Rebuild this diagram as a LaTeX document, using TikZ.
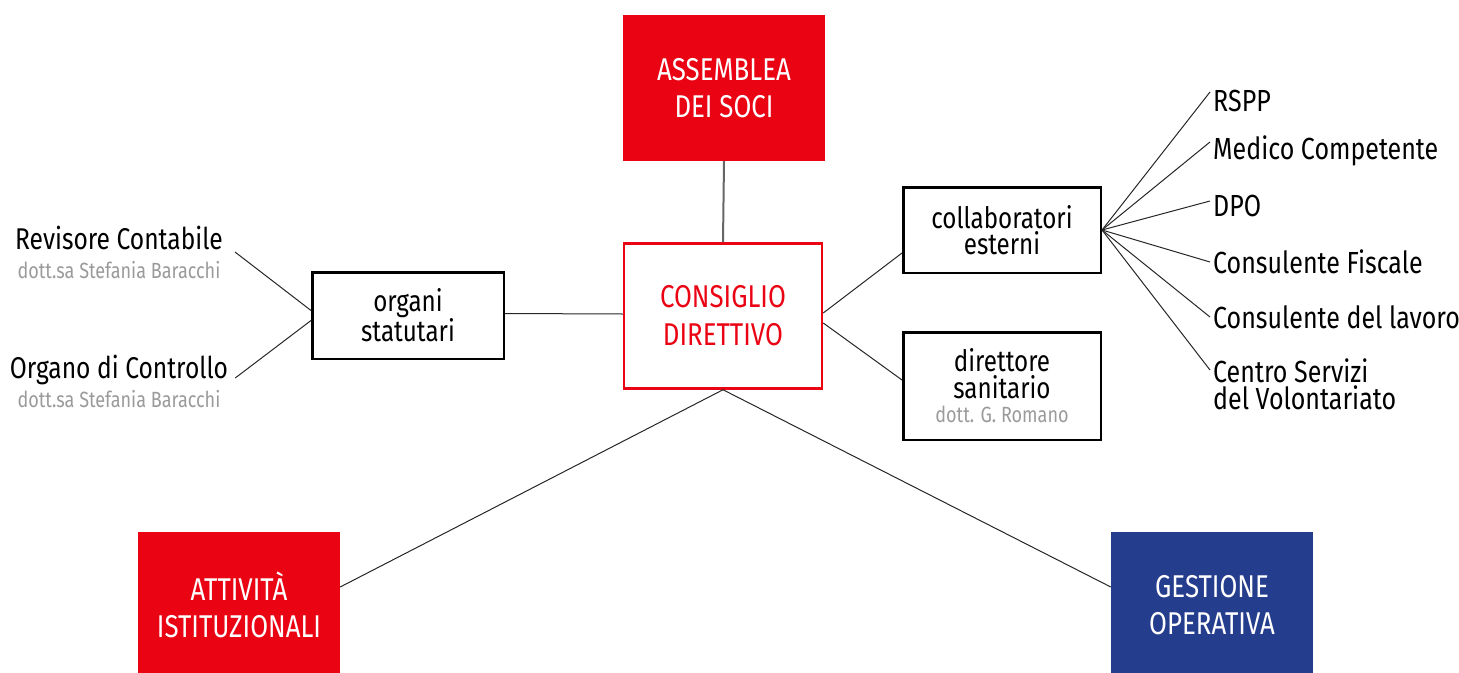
\documentclass[tikz,border=0pt]{standalone}
\usepackage{fontspec}
\setmainfont{Fira Sans}[FakeStretch=0.82]
\usetikzlibrary{positioning}
\definecolor{rosso}{HTML}{EA0313}
\definecolor{blu}{HTML}{253D8D}
\definecolor{grigio}{HTML}{9A9A9A}
\newcommand{\nomegrigio}[1]{{\color{grigio}\fontsize{22}{24}\selectfont #1}}

\begin{document}
\begin{tikzpicture}[x=1pt,y=-1pt,
	pieno/.style={minimum width=202pt,minimum height=146pt,inner sep=0pt,align=center,text=white,font=\fontsize{31.5}{37}\selectfont},
	cornice/.style={draw,line width=2.5pt,inner sep=0pt,align=center,font=\fontsize{29.5}{26.5}\selectfont},
	voce/.style={anchor=west,align=left,inner sep=0pt,font=\fontsize{30.5}{27}\selectfont},
	firma/.style={align=center,inner sep=0pt,font=\fontsize{30}{29}\selectfont},
	filo/.style={draw=black!85,line width=1pt}
	]
	\useasboundingbox (0,0) rectangle (1459,672);
	% livello centrale
	\node[pieno,fill=rosso](assemblea) at (724,88) {ASSEMBLEA\\DEI SOCI};
	\node[cornice,draw=rosso,text=rosso,minimum width=198pt,minimum height=145pt,font=\fontsize{31.5}{38}\selectfont](consiglio) at (723,316) {CONSIGLIO\\DIRETTIVO};
	\node[cornice,minimum width=191.5pt,minimum height=86.5pt](organi) at (408,315.5) {organi\\statutari};
	\node[cornice,minimum width=197.5pt,minimum height=85.5pt](collaboratori) at (1002,230) {collaboratori\\esterni};
	\node[cornice,minimum width=197.5pt,minimum height=107.5pt](direttore) at (1002,386) {direttore\\sanitario\\[-2pt]\nomegrigio{dott. G. Romano}};
	\node[pieno,fill=rosso](attivita) at (239,605) {ATTIVITÀ\\ISTITUZIONALI};
	\node[pieno,fill=blu](gestione) at (1212,605) {GESTIONE\\OPERATIVA};
	% organi statutari
	\node[firma](revisore) at (119,252) {Revisore Contabile\\\nomegrigio{dott.sa Stefania Baracchi}};
	\node[firma](controllo) at (119,381) {Organo di Controllo\\\nomegrigio{dott.sa Stefania Baracchi}};
	% collaboratori esterni
	\node[voce](rspp) at (1213,101) {RSPP};
	\node[voce](medico) at (1213,151) {Medico Competente};
	\node[voce](dpo) at (1213,206) {DPO};
	\node[voce](fiscale) at (1213,262) {Consulente Fiscale};
	\node[voce](lavoro) at (1213,317) {Consulente del lavoro};
	\node[voce](centro) at (1213,384) {Centro Servizi\\del Volontariato};
	% collegamenti
	\draw[draw=black!60,line width=2pt] (assemblea.south) -- (consiglio.north);
	\draw[filo] ([yshift=2pt]organi.east) -- ([yshift=2pt]consiglio.west);
	\draw[filo] ([xshift=12pt]revisore.east) -- ([yshift=5pt]organi.west);
	\draw[filo] ([xshift=7pt,yshift=3pt]controllo.east) -- ([yshift=-5pt]organi.west);
	\draw[filo] ([yshift=3pt]consiglio.east) -- ([yshift=-23pt]collaboratori.west);
	\draw[filo] ([yshift=-7pt]consiglio.east) -- ([yshift=6pt]direttore.west);
	\draw[filo] (consiglio.south) -- ([yshift=18pt]attivita.east);
	\draw[filo] (consiglio.south) -- ([yshift=18pt]gestione.west);
	\draw[filo] (collaboratori.east) -- ([xshift=-3pt,yshift=9pt]rspp.west);
	\draw[filo] (collaboratori.east) -- ([xshift=-3pt,yshift=9pt]medico.west);
	\draw[filo] (collaboratori.east) -- ([xshift=-3pt,yshift=5pt]dpo.west);
	\draw[filo] (collaboratori.east) -- ([xshift=-3pt]fiscale.west);
	\draw[filo] (collaboratori.east) -- ([xshift=-3pt]lavoro.west);
	\draw[filo] (collaboratori.east) -- ([xshift=-3pt,yshift=14pt]centro.west);
\end{tikzpicture}
\end{document}
